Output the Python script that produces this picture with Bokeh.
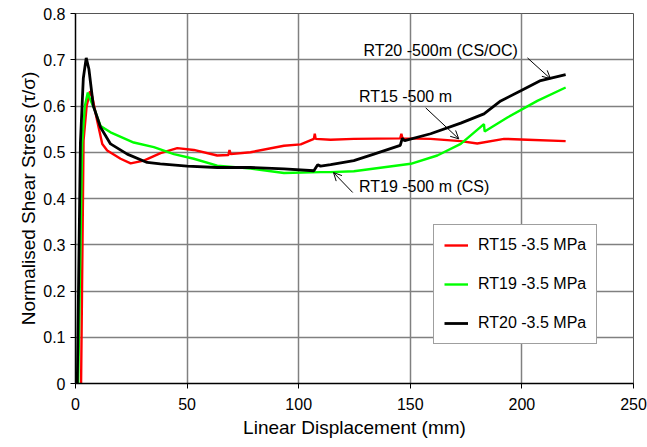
from bokeh.plotting import figure
from bokeh.models import Legend, LegendItem, FixedTicker, Arrow, OpenHead, Label
from bokeh.embed import file_html
from bokeh.resources import INLINE

# ---- data ----
rt15_x = [2.5, 3.6, 5.0, 6.5, 7.5, 9.7, 12.0, 14.2, 20.2, 24.7, 30.6, 38.1, 45.6, 53.0, 63.5, 68.5, 69.0, 69.5,
          78.4, 93.4, 100.9, 106.8, 107.2, 107.6, 114.3, 124.7, 145.5, 146.0, 146.5, 159.1, 172.6, 180.0, 192.0, 202.5, 219.6]
rt15_y = [0.0, 0.525, 0.60, 0.632, 0.62, 0.568, 0.518, 0.504, 0.486, 0.476, 0.482, 0.498, 0.509, 0.505, 0.493, 0.494, 0.505, 0.496,
          0.500, 0.514, 0.517, 0.529, 0.540, 0.529, 0.527, 0.529, 0.530, 0.540, 0.530, 0.529, 0.524, 0.519, 0.529, 0.527, 0.524]

rt19_x = [1.2, 3.0, 4.2, 5.5, 6.5, 8.2, 11.2, 15.7, 26.1, 35.1, 44.1, 53.0, 63.5, 78.4, 93.4, 109.8, 114.3, 124.7,
          150.2, 162.1, 172.6, 183.0, 183.3, 193.5, 206.9, 219.6]
rt19_y = [0.0, 0.52, 0.60, 0.629, 0.615, 0.597, 0.557, 0.543, 0.521, 0.511, 0.496, 0.486, 0.471, 0.465, 0.455, 0.457, 0.457, 0.459,
          0.475, 0.493, 0.518, 0.561, 0.545, 0.575, 0.611, 0.640]

rt20_x = [0.8, 2.2, 3.5, 4.8, 6.0, 8.0, 11.2, 15.7, 23.2, 32.1, 38.0, 50.0, 63.5, 78.4, 93.4, 106.8, 108.5, 109.8, 114.3,
          124.7, 133.7, 145.5, 146.4, 147.5, 159.1, 172.6, 183.0, 190.5, 199.5, 208.4, 219.6]
rt20_y = [0.0, 0.52, 0.66, 0.704, 0.68, 0.60, 0.554, 0.518, 0.496, 0.478, 0.475, 0.470, 0.467, 0.467, 0.464, 0.460, 0.473, 0.470, 0.473,
          0.482, 0.496, 0.515, 0.530, 0.525, 0.540, 0.563, 0.583, 0.611, 0.633, 0.655, 0.668]

series_names = ["RT15 -3.5 MPa", "RT19 -3.5 MPa", "RT20 -3.5 MPa"]
series_colors = ["#ff0000", "#00ff00", "#000000"]

x_ticks = [0, 50, 100, 150, 200, 250]
y_ticks = [0, 0.1, 0.2, 0.3, 0.4, 0.5, 0.6, 0.7, 0.8]
y_tick_labels = ["0", "0.1", "0.2", "0.3", "0.4", "0.5", "0.6", "0.7", "0.8"]

# annotations: text, text anchor (x, y), arrow tail (x, y), arrow head (x, y)
ann_texts = ["RT20 -500m (CS/OC)", "RT15 -500 m", "RT19 -500 m (CS)"]
ann_text_pos = [(129.0, 0.720), (127.0, 0.620), (127.0, 0.427)]
ann_tail = [(202.5, 0.704), (156.9, 0.596), (124.2, 0.413)]
ann_head = [(212.8, 0.659), (171.7, 0.529), (115.6, 0.456)]

FONT = "Liberation Sans"

p = figure(width=647, height=447, x_range=(0, 250), y_range=(0, 0.8),
           output_backend="svg", toolbar_location=None,
           min_border_left=75, min_border_right=14, min_border_top=13, min_border_bottom=64)
p.background_fill_color = "white"
p.border_fill_color = "white"
p.outline_line_color = "#555555"
p.outline_line_width = 1

p.xaxis.ticker = FixedTicker(ticks=x_ticks)
p.yaxis.ticker = FixedTicker(ticks=y_ticks)
p.yaxis.major_label_overrides = {t: l for t, l in zip(y_ticks, y_tick_labels)}
for ax in (p.xaxis[0], p.yaxis[0]):
    ax.axis_line_color = "black"
    ax.axis_line_width = 1.5
    ax.major_tick_line_color = "black"
    ax.major_tick_in = 0
    ax.major_tick_out = 5
    ax.minor_tick_line_color = None
    ax.major_label_text_font = FONT
    ax.major_label_text_font_size = "16px"
    ax.major_label_text_color = "black"
    ax.axis_label_text_font = FONT
    ax.axis_label_text_font_size = "19px"
    ax.axis_label_text_font_style = "normal"
    ax.axis_label_text_color = "black"
p.xaxis.axis_label = "Linear Displacement (mm)"
p.yaxis.axis_label = "Normalised Shear Stress (\u03c4/\u03c3)"
p.xaxis.major_label_standoff = 9
p.yaxis.major_label_standoff = 5
p.xaxis.axis_label_standoff = 4
p.yaxis.axis_label_standoff = 1

p.xgrid.grid_line_color = "#808080"
p.ygrid.grid_line_color = "#808080"
p.xgrid.grid_line_width = 1.5
p.ygrid.grid_line_width = 1.5

renderers = []
for xs, ys, c in zip([rt15_x, rt19_x, rt20_x], [rt15_y, rt19_y, rt20_y], series_colors):
    r = p.line(xs, ys, line_color=c, line_width=2.8 if c == "#000000" else 2.4)
    renderers.append(r)

for t, tp, ta, hd in zip(ann_texts, ann_text_pos, ann_tail, ann_head):
    p.add_layout(Label(x=tp[0], y=tp[1], text=t, text_font=FONT, text_font_size="16px",
                       text_color="black", text_baseline="middle", text_align="left"))
    p.add_layout(Arrow(x_start=ta[0], y_start=ta[1], x_end=hd[0], y_end=hd[1],
                       line_color="black", line_width=1,
                       end=OpenHead(size=8, line_color="black", line_width=1)))

legend = Legend(items=[LegendItem(label=n, renderers=[r]) for n, r in zip(series_names, renderers)],
                location=(358, 39), orientation="vertical")
legend.label_text_font = FONT
legend.label_text_font_size = "16px"
legend.label_text_color = "black"
legend.border_line_color = "#404040"
legend.border_line_width = 1
legend.background_fill_color = "white"
legend.background_fill_alpha = 1.0
legend.glyph_width = 24
legend.glyph_height = 20
legend.spacing = 19
legend.padding = 10
legend.margin = 0
legend.label_standoff = 10
legend.label_height = 20
p.add_layout(legend, "center")

open("out.html", "w").write(file_html(p, INLINE))
